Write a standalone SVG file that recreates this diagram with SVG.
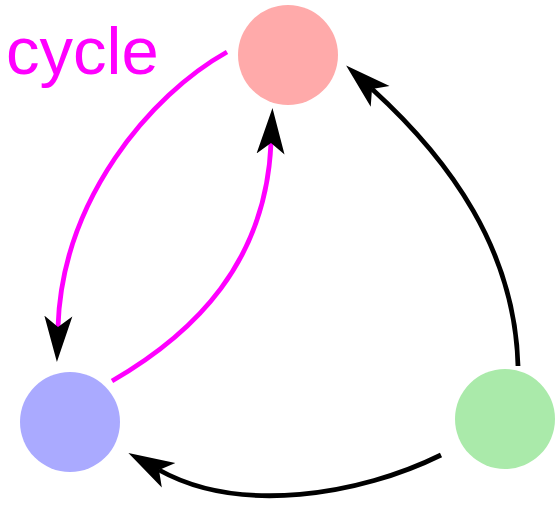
<svg xmlns="http://www.w3.org/2000/svg" width="556" height="505" viewBox="0 0 556 505">
<style>
.edge{fill:none;stroke-width:4.8;}
.mag{stroke:#ff00ff;}
.blk{stroke:#000000;}
.lbl{font-family:"Liberation Sans",Arial,sans-serif;font-size:67px;fill:#ff00ff;}
</style>
<defs>
<marker id="arr" markerUnits="userSpaceOnUse" viewBox="0 0 48 30" markerWidth="48" markerHeight="30" refX="11" refY="15" orient="auto">
<path d="M0,1 L46,15 L0,29 L11,15 Z" fill="#000"/>
</marker>
</defs>
<rect width="556" height="505" fill="#ffffff"/>
<g id="node-red"><circle cx="288" cy="55" r="50" fill="#ffaaaa"/></g>
<g id="node-blue"><circle cx="70" cy="422" r="50" fill="#aaaaff"/></g>
<g id="node-green"><circle cx="505" cy="419" r="50" fill="#aaeaaa"/></g>
<g id="connectors">
<path class="edge mag" d="M227,52 C150,95 62,200 58,327" marker-end="url(#arr)"/>
<path class="edge mag" d="M112,381 C195,333 266,262 271,143" marker-end="url(#arr)"/>
<path class="edge blk" d="M518,366 C515,250 450,160 372,89" marker-end="url(#arr)"/>
<path class="edge blk" d="M441,455 C360,495 240,515 159,470" marker-end="url(#arr)"/>
</g>
<g id="label"><text class="lbl" x="6" y="74">cycle</text></g>
</svg>
